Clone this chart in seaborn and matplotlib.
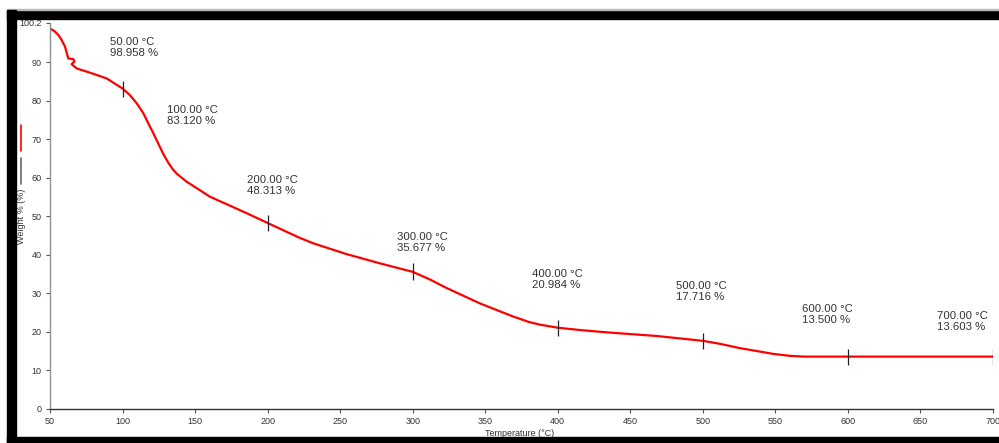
import numpy as np
import pandas as pd
import matplotlib
matplotlib.use("Agg")
import matplotlib.pyplot as plt
from matplotlib.lines import Line2D
from matplotlib.patches import Rectangle
import seaborn as sns

# TGA curve
temperature = [50.0, 53.0, 55.7, 58.0, 60.3, 62.6, 66.1, 66.8, 64.9, 68.4, 77.6,
               89.1, 100.0, 105.0, 109.7, 114.3, 118.9, 121.2, 124.5, 128.1,
               131.6, 134.5, 137.3, 144.2, 150.0, 160.3, 176.3, 188.0, 200.5, 208.5,
               222.3, 231.5, 254.5, 277.5, 300.0, 312.0, 323.4, 346.4, 369.3,
               380.0, 387.7, 400.0, 415.3, 433.7, 468.2, 500.0, 512.0, 525.6,
               548.6, 560.0, 569.2, 594.5, 650.0, 700.0]
weight = [98.8, 98.1, 97.1, 95.8, 94.1, 91.0, 90.8, 90.2, 89.5, 88.4, 87.3,
          85.8, 83.2, 81.5, 79.4, 76.8, 73.3, 71.6, 69.0, 66.2,
          63.9, 62.3, 61.1, 59.0, 57.6, 55.1, 52.4, 50.4, 48.2, 46.8,
          44.4, 43.0, 40.2, 37.8, 35.6, 33.6, 31.4, 27.4, 24.0,
          22.6, 21.9, 21.1, 20.5, 19.9, 18.95, 17.7, 16.9, 15.8,
          14.3, 13.8, 13.6, 13.6, 13.6, 13.6]

# marked points
mark_temp = [50, 100, 200, 300, 400, 500, 600, 700]
mark_weight = [98.958, 83.120, 48.313, 35.677, 20.984, 17.716, 13.500, 13.603]
# where each label sits (top-left corner, data units)
label_x = [91.4, 130.5, 186.0, 289.0, 382.1, 481.5, 568.1, 661.7]
label_y = [96.6, 78.9, 60.8, 46.0, 36.4, 33.2, 27.2, 25.5]

x_ticks = list(range(50, 701, 50))
y_ticks = [0, 10, 20, 30, 40, 50, 60, 70, 80, 90, 100.2]
y_tick_labels = ["0", "10", "20", "30", "40", "50", "60", "70", "80", "90", "100.2"]

df = pd.DataFrame({"Temperature": temperature, "Weight": weight})

sns.set_style("white")
plt.rcParams["font.family"] = ["Liberation Sans", "DejaVu Sans"]

W, H = 999, 443
fig = plt.figure(figsize=(W / 100, H / 100), dpi=100)
ax = fig.add_axes([50 / W, 1 - 409 / H, (993 - 50) / W, (409 - 23) / H])

sns.lineplot(data=df, x="Temperature", y="Weight", sort=False, estimator=None,
             color="#ff0000", linewidth=1.6, ax=ax)

# small vertical markers on the curve
for t, w in zip(mark_temp[1:], mark_weight[1:]):
    ax.vlines(t, w - 2.1, w + 2.1, color="#222222", linewidth=0.9, zorder=3)

for t, w, lx, ly in zip(mark_temp, mark_weight, label_x, label_y):
    ax.text(lx, ly, f"{t:.2f} °C\n{w:.3f} %", ha="left", va="top",
            fontsize=8.2, color="#333333", linespacing=1.15, clip_on=False)

ax.set_xlim(50, 700)
ax.set_ylim(0, 100.2)
ax.set_xticks(x_ticks)
ax.set_yticks(y_ticks)
ax.set_yticklabels(y_tick_labels)
ax.set_xlabel("")
ax.set_ylabel("")
ax.tick_params(axis="both", labelsize=6.5, labelcolor="#333333", length=3,
               width=0.8, color="#555555", pad=3, direction="out")
ax.tick_params(axis="both", which="both", bottom=True, left=True)
for side in ["top", "right"]:
    ax.spines[side].set_visible(False)
ax.spines["left"].set_color("#909090")
ax.spines["left"].set_linewidth(1.0)
ax.spines["bottom"].set_color("#333333")
ax.spines["bottom"].set_linewidth(1.0)

fig.text(520 / W, 1 - 433 / H, "Temperature (°C)", ha="center", va="center",
         fontsize=6.5, color="#333333")
fig.text(21 / W, 1 - 216 / H, "Weight % (%)", ha="center", va="center",
         rotation=90, fontsize=6.5, color="#333333")

# little legend strokes in the left margin
fig.add_artist(Line2D([21 / W, 21 / W], [1 - 125 / H, 1 - 151 / H],
                      color="#ff0000", linewidth=1.2))
fig.add_artist(Line2D([21 / W, 21 / W], [1 - 158 / H, 1 - 184 / H],
                      color="#666666", linewidth=1.2))

# black window frame
fig.add_artist(Rectangle((7 / W, 1 - 19 / H), 1 - 7 / W, 9 / H, transform=fig.transFigure,
                         color="black", zorder=10))
fig.add_artist(Rectangle((7 / W, 1 - 10 / H), 1 - 7 / W, 1 / H, transform=fig.transFigure,
                         color="#bbbbbb", zorder=10))
fig.add_artist(Rectangle((7 / W, 0), 9 / W, 1 - 10 / H, transform=fig.transFigure,
                         color="black", zorder=10))
fig.add_artist(Rectangle((7 / W, 0), 1 - 7 / W, 6 / H, transform=fig.transFigure,
                         color="black", zorder=10))

fig.savefig("out.png", dpi=100)
